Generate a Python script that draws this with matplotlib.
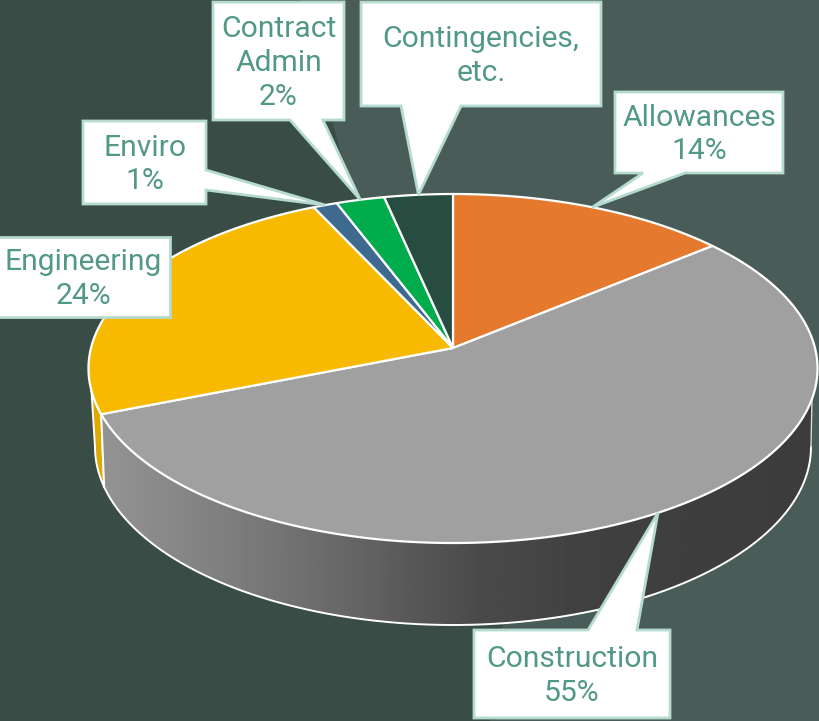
#!/usr/bin/python3
import numpy as np
import matplotlib
matplotlib.use("Agg")
import matplotlib.pyplot as plt
from matplotlib.patches import Polygon

# Data
names = ["Allowances", "Construction", "Engineering", "Enviro", "Contract\nAdmin", "Contingencies,\netc."]
shares = [14.0, 55.0, 24.0, 1.2, 2.4, 3.4]
shown = ["14%", "55%", "24%", "1%", "2%", ""]
top_colors = ["#E57A2E", "#A0A0A0", "#F7BA00", "#3D6A8E", "#00AC4C", "#274C40"]

# Layout, in picture pixels
apex = (453, 348)
persp = -0.1175
scale_x, scale_y = 362.0, 172.1
bottom_ell = (453, 447, 358, 178)
# left, top, right, bottom of each callout, then pointer base
boxes = [(615, 92, 783, 173), (474, 630, 670, 718), (-3, 237, 170, 317),
	(83, 121, 206, 204), (213, 2, 344, 120), (361, 2, 601, 106)]
bases = [((643, 173), (685, 173)), ((588, 630), (637, 630)), None,
	((206, 170), (206, 190)), ((290, 120), (323, 120)), ((401, 106), (461, 106))]


def rim(a):
	# a in degrees clockwise from the top, projected on the tilted disc
	a = np.radians(a)
	u, v = np.sin(a), np.cos(a)
	w = 1 - persp*v
	return apex[0] + scale_x*u/w, apex[1] - scale_y*v/w


def low_rim(a):
	cx, cy, rx, ry = bottom_ell
	a = np.radians(a)
	return cx + rx*np.cos(a), cy + ry*np.sin(a)


fig = plt.figure(figsize=(8.19, 7.21), dpi=100)
ax = fig.add_axes([0, 0, 1, 1])

# Two tone background
ax.add_patch(Polygon([(0, 0), (819, 0), (819, 721), (0, 721)], fc="#4A5C57", ec="none", zorder=0))
ax.add_patch(Polygon([(0, 0), (300, 0), (340, 150), (503, 625), (490, 721), (0, 721)],
	fc="#394C45", ec="none", zorder=0.5))

edges = np.concatenate([[0], np.cumsum(shares)])*3.6

# Side wall: bottom ellipse as far as the grey slice reaches, joined to the top rim
lx, ly = low_rim(np.linspace(0, 167, 200))
ex, ey = rim(np.linspace(edges[1], edges[2], 400))
keep = ey >= 397
wall = np.column_stack([np.r_[lx, ex[keep][::-1], 812], np.r_[ly, ey[keep][::-1], 397]])

# Yellow bit of wall, then the gradient grey
yx, yy = rim(np.linspace(edges[2], edges[2] + 25, 60))
yx, yy = yx[yy > 390], yy[yy > 390]
ox, oy = low_rim(np.linspace(167, 180, 20))
ax.add_patch(Polygon(np.column_stack([np.r_[ox[::-1], yx], np.r_[oy[::-1], yy]]),
	fc="#DFA900", ec="white", lw=1.4, zorder=2))

grad = np.interp(np.linspace(100, 815, 400), [100, 220, 360, 480, 600, 815],
	[0.58, 0.50, 0.39, 0.29, 0.25, 0.24])
patch = Polygon(wall, fc="none", ec="none", zorder=2)
ax.add_patch(patch)
img = ax.imshow(np.tile(grad, (2, 1)), extent=(100, 815, 640, 390), cmap="gray", vmin=0, vmax=1,
	aspect="auto", zorder=2.1)
img.set_clip_path(patch)

lox, loy = low_rim(np.linspace(0, 167, 200))
ax.plot(lox, loy, color="white", lw=1.4, zorder=2.2)
ax.plot([812, low_rim(0)[0]], [397, low_rim(0)[1]], color="#D8D8D8", lw=1.0, zorder=2.2)
px, py = rim(edges[2])
ax.plot([px, lox[-1]], [py, loy[-1]], color="white", lw=1.4, zorder=2.2)

# Top of the pie
for i, c in enumerate(top_colors):
	x, y = rim(np.linspace(edges[i], edges[i+1], 200))
	ax.add_patch(Polygon(np.column_stack([np.r_[apex[0], x], np.r_[apex[1], y]]),
		fc=c, ec="white", lw=1.6, joinstyle="round", zorder=3))

# Callouts
for i, name in enumerate(names):
	l, t, r, b = boxes[i]
	pts = [(l, t), (r, t), (r, b), (l, b)]
	if bases[i] is not None:
		tip = rim((edges[i] + edges[i+1])/2)
		p, q = bases[i]
		if p[0] == r:  # pointer leaves from the right side
			pts = [(l, t), (r, t), p, tip, q, (r, b), (l, b)]
		else:
			pts = [(l, t), (r, t), (r, b), q, tip, p, (l, b)]
		if p[1] == t:  # pointer leaves from the top
			pts = [(l, t), p, tip, q, (r, t), (r, b), (l, b)]
	ax.add_patch(Polygon(pts, fc="white", ec="#B5DAD0", lw=2, joinstyle="miter", zorder=4))
	label = name + ("\n" + shown[i] if shown[i] else "")
	ax.text((l + r)/2, (t + b)/2 + 2, label, ha="center", va="center", multialignment="center",
		color="#529886", fontsize=21.6, family="Roboto", linespacing=1.27, zorder=5)

ax.set_xlim(0, 819)
ax.set_ylim(721, 0)
ax.axis("off")

plt.savefig("out.png", dpi=100)
